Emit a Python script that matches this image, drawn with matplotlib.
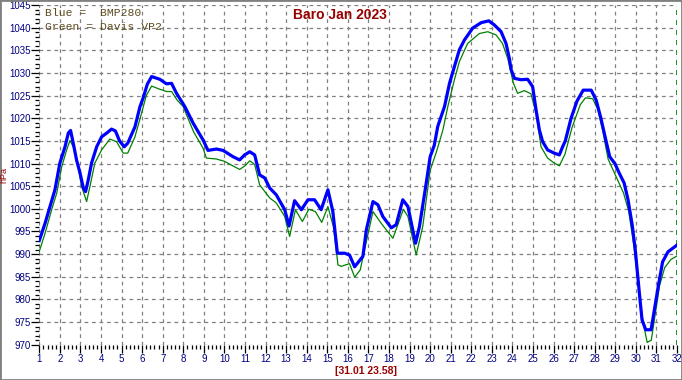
import matplotlib
matplotlib.use('Agg')
import matplotlib.pyplot as plt
from matplotlib.ticker import MultipleLocator

# Blue = BMP280 (day of month, hPa)
blue_days = [1.00, 1.28, 1.52, 1.76, 2.00, 2.25, 2.41, 2.52, 2.65, 2.81, 2.98, 3.14, 3.25, 3.38, 3.54,
             3.79, 4.03, 4.27, 4.51, 4.70, 4.90, 5.13, 5.30, 5.65, 5.89, 6.05, 6.25, 6.46, 6.86, 7.18,
             7.43, 7.67, 8.07, 8.48, 8.96, 9.20, 9.61, 9.93, 10.42, 10.74, 10.98, 11.23, 11.47, 11.71,
             11.96, 12.20, 12.52, 12.93, 13.14, 13.41, 13.74, 14.06, 14.38, 14.70, 15.03, 15.27, 15.49,
             15.84, 16.08, 16.33, 16.73, 16.90, 17.22, 17.46, 17.70, 18.11, 18.35, 18.67, 18.92, 19.29,
             19.48, 19.81, 20.00, 20.20, 20.37, 20.70, 20.94, 21.18, 21.42, 21.67, 22.07, 22.48, 22.85,
             23.12, 23.45, 23.69, 23.85, 23.94, 24.10, 24.42, 24.74, 24.98, 25.15, 25.31, 25.47, 25.71,
             26.03, 26.28, 26.44, 26.57, 26.85, 27.14, 27.44, 27.83, 28.07, 28.30, 28.55, 28.73, 28.98,
             29.18, 29.43, 29.62, 29.82, 29.97, 30.20, 30.30, 30.48, 30.74, 30.90, 31.10, 31.30, 31.56, 32.00]
blue_hpa = [993.0, 996.8, 1000.5, 1004.2, 1010.1, 1013.7, 1016.7, 1017.3, 1014.5, 1010.8, 1007.9, 1004.6,
            1003.8, 1006.4, 1010.1, 1013.7, 1015.9, 1016.7, 1017.6, 1017.2, 1015.0, 1013.7, 1014.5, 1018.1,
            1022.5, 1024.5, 1027.5, 1029.2, 1028.6, 1027.6, 1027.7, 1025.5, 1022.6, 1018.9, 1015.2, 1012.9,
            1013.2, 1012.9, 1011.5, 1010.8, 1011.9, 1012.6, 1011.9, 1007.5, 1006.8, 1004.6, 1003.1, 999.8,
            996.2, 1001.8, 999.8, 1002.0, 1002.0, 999.8, 1004.2, 999.4, 990.2, 990.2, 989.8, 987.2, 989.5,
            995.4, 1001.6, 1000.9, 998.3, 995.8, 996.5, 1002.0, 1000.5, 992.4, 996.1, 1005.7, 1011.5, 1014.0,
            1018.2, 1022.6, 1027.7, 1031.4, 1035.1, 1037.3, 1039.9, 1041.1, 1041.5, 1040.6, 1039.1, 1036.5,
            1033.2, 1030.7, 1028.8, 1028.5, 1028.6, 1027.0, 1021.8, 1017.4, 1014.8, 1013.0, 1012.3, 1011.9,
            1013.7, 1015.0, 1020.0, 1023.8, 1026.2, 1026.2, 1024.0, 1020.0, 1015.0, 1011.5, 1010.0, 1008.0,
            1005.7, 1002.0, 996.5, 991.0, 980.0, 975.5, 973.3, 973.3, 977.7, 983.2, 988.3, 990.5, 992.0]

# Green = Davis VP2
green_days = [1.00, 1.28, 1.60, 1.85, 2.09, 2.33, 2.49, 2.73, 2.90, 3.06, 3.30, 3.46, 3.70, 4.03, 4.43,
              4.76, 5.08, 5.30, 5.65, 5.97, 6.20, 6.46, 6.80, 7.18, 7.43, 7.70, 7.99, 8.50, 8.96, 9.12,
              9.60, 10.00, 10.40, 10.74, 11.00, 11.23, 11.47, 11.71, 12.20, 12.52, 12.93, 13.17, 13.45,
              13.79, 14.10, 14.42, 14.73, 15.03, 15.30, 15.52, 15.68, 16.08, 16.33, 16.60, 16.90, 17.22,
              17.62, 18.19, 18.70, 18.92, 19.32, 19.64, 20.00, 20.30, 20.62, 20.86, 21.18, 21.42, 21.82,
              22.39, 22.80, 23.20, 23.52, 23.77, 24.05, 24.25, 24.58, 24.90, 25.15, 25.39, 25.71, 26.03,
              26.28, 26.55, 26.90, 27.30, 27.55, 27.90, 28.15, 28.40, 28.65, 28.95, 29.40, 29.65, 29.90,
              30.15, 30.35, 30.55, 30.75, 30.95, 31.15, 31.40, 31.70, 32.00]
green_hpa = [990.6, 994.6, 999.8, 1003.5, 1009.3, 1013.0, 1015.1, 1013.0, 1009.0, 1004.9, 1001.6, 1004.9,
             1010.1, 1013.0, 1015.4, 1014.8, 1012.3, 1012.3, 1015.9, 1021.1, 1025.0, 1027.1, 1026.5, 1025.9,
             1025.9, 1024.0, 1022.6, 1017.0, 1013.4, 1011.2, 1011.0, 1010.5, 1009.5, 1008.7, 1009.5, 1010.6,
             1009.8, 1005.3, 1002.4, 1001.3, 998.3, 993.9, 999.8, 997.2, 999.9, 999.4, 997.0, 1000.5, 996.0,
             987.6, 987.3, 987.9, 984.9, 986.5, 992.8, 999.4, 996.8, 993.5, 999.9, 998.3, 989.8, 996.1,
             1008.5, 1012.5, 1017.4, 1022.6, 1028.5, 1032.5, 1036.5, 1038.7, 1039.1, 1038.4, 1036.5, 1033.2,
             1027.7, 1025.5, 1026.1, 1025.4, 1021.1, 1013.7, 1011.2, 1010.1, 1009.5, 1012.0, 1018.0, 1023.0,
             1024.5, 1024.3, 1022.0, 1017.0, 1011.0, 1008.0, 1003.5, 999.5, 992.0, 982.0, 975.0, 970.5,
             971.0, 977.0, 983.0, 987.0, 988.8, 989.6]

day_labels = [str(d) for d in range(1, 33)]

navy = '#000080'
darkred = '#990000'
narrow = ['Liberation Sans Narrow', 'Liberation Sans', 'DejaVu Sans']

fig = plt.figure(figsize=(6.82, 3.80), dpi=100)
ax = fig.add_axes([39.3 / 682, 1 - 344.7 / 380, (677 - 39.3) / 682, 339.7 / 380])

ax.set_xlim(1, 32)
ax.set_ylim(970, 1045)

# grid
ax.xaxis.set_major_locator(MultipleLocator(1))
ax.xaxis.set_minor_locator(MultipleLocator(0.2))
ax.yaxis.set_major_locator(MultipleLocator(5))
ax.yaxis.set_minor_locator(MultipleLocator(1))
ax.grid(True, which='major', color='#808080', linestyle=(0, (3, 3)), linewidth=0.9)
ax.set_axisbelow(True)

for s in ax.spines.values():
    s.set_visible(False)

ax.tick_params(axis='both', which='major', length=5.8, width=0.9, color='black', labelcolor=navy,
               labelsize=7.0, direction='out')
ax.tick_params(axis='both', which='minor', length=2.8, width=0.9, color='black', direction='out')
ax.tick_params(axis='x', which='major', pad=1)
ax.tick_params(axis='y', which='major', pad=0)
ax.set_xticks(range(1, 33))
ax.set_xticklabels(day_labels)
for lab in ax.get_xticklabels() + ax.get_yticklabels():
    lab.set_family(narrow)

ax.plot(green_days, green_hpa, color='#008000', linewidth=0.9, zorder=3)
ax.plot(blue_days, blue_hpa, color='#0000ff', linewidth=2.3, zorder=4)
ax.axvline(32, color='#008000', linestyle=(0, (3, 3)), linewidth=1.2, zorder=2)

# y label squeezed to the left of the tick labels
fig.text(4 / 682, 1 - 175 / 380, 'hPa', color=darkred, fontsize=6.5, family=narrow,
         rotation=90, ha='center', va='center')

fig.text(340 / 682, 1 - 15 / 380, 'Baro Jan 2023', color=darkred, fontsize=10, fontweight='bold',
         family=['Liberation Sans'], ha='center', va='center')
fig.text(366 / 682, 1 - 371 / 380, '[31.01 23.58]', color=darkred, fontsize=7.5, fontweight='bold',
         family=narrow, ha='center', va='center')

fig.text(45 / 682, 1 - 13 / 380, 'Blue =  BMP280', color='#5c4a1e', fontsize=8.2,
         family=['Liberation Mono'], ha='left', va='center')
fig.text(45 / 682, 1 - 27 / 380, 'Green = Davis VP2', color='#5c4a1e', fontsize=8.2,
         family=['Liberation Mono'], ha='left', va='center')

# grey frame around the picture
fig.add_artist(plt.Rectangle((0, 0), 1, 1, transform=fig.transFigure, fill=False,
                             edgecolor='#808080', linewidth=2))

fig.savefig('out.png', dpi=100)
